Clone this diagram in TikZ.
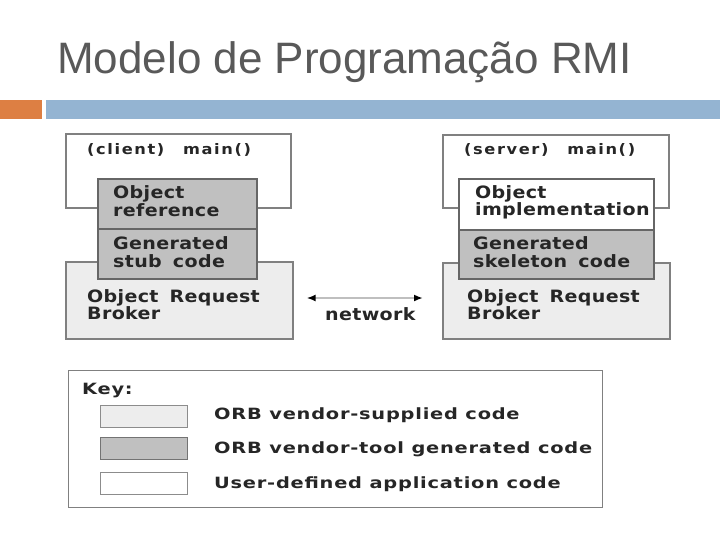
\documentclass[tikz,border=0pt]{standalone}
\usepackage{fontspec}
\setmainfont{Liberation Sans}
\newfontfamily\dgfont{DejaVu Sans}[LetterSpace=2,FakeStretch=1.12,WordSpace=1.6]
\newfontfamily\hdfont{DejaVu Sans}[LetterSpace=11,FakeStretch=1.12,WordSpace=1.3]
\newfontfamily\kyfont{DejaVu Sans}[LetterSpace=5,FakeStretch=1.25]
\usetikzlibrary{arrows.meta}
\definecolor{orbc}{HTML}{EDEDED}
\definecolor{genc}{HTML}{C0C0C0}
\definecolor{brd}{HTML}{808080}
\definecolor{titlec}{HTML}{595959}
\definecolor{orangec}{HTML}{DD7F43}
\definecolor{bluec}{HTML}{94B4D2}
\tikzset{
  box/.style={draw=brd, line width=1.6pt, rectangle, inner sep=0pt, anchor=north west},
  txt/.style={anchor=base west, inner sep=0pt, font=\dgfont\bfseries\fontsize{17}{20}\selectfont, text=black!85},
  hdr/.style={txt, font=\hdfont\bfseries\fontsize{14.5}{17}\selectfont},
  kyt/.style={txt, font=\kyfont\bfseries\fontsize{15.5}{18}\selectfont},
}
\begin{document}
\begin{tikzpicture}[x=1pt,y=-1pt]
\useasboundingbox (0,0) rectangle (720,540);
% title and bars
\node[anchor=base west, inner sep=0pt, font=\fontsize{44}{50}\selectfont, text=titlec] (title) at (57,74) {Modelo de Programação RMI};
\fill[orangec] (0,100) rectangle (42,119);
\fill[bluec] (46,100) rectangle (720,119);
% client side
\node[box, fill=white, minimum width=225pt, minimum height=74pt] (mainL) at (65,133) {};
\node[box, fill=orbc, minimum width=227pt, minimum height=77pt] (orbL) at (65,261) {};
\node[box, fill=genc, draw=black!60, minimum width=159pt, minimum height=50pt] (refL) at (97,178) {};
\node[box, fill=genc, draw=black!60, minimum width=159pt, minimum height=50pt] (stubL) at (97,228) {};
\node[hdr] (tmL) at (87,155) {(client)\ \ main()};
\node[txt] (tr1) at (113,199) {Object};
\node[txt] (tr2) at (113,216) {reference};
\node[txt] (ts1) at (113,249) {Generated};
\node[txt] (ts2) at (113,267) {stub code};
\node[txt] (to1) at (87,302) {Object Request};
\node[txt] (to2) at (87,319) {Broker};
% server side
\node[box, fill=white, minimum width=226pt, minimum height=73pt] (mainR) at (442,134) {};
\node[box, fill=orbc, minimum width=227pt, minimum height=76pt] (orbR) at (442,262) {};
\node[box, fill=white, draw=black!60, minimum width=195pt, minimum height=51pt] (implR) at (458,178) {};
\node[box, fill=genc, draw=black!60, minimum width=195pt, minimum height=49pt] (skelR) at (458,229) {};
\node[hdr] (tmR) at (464,155) {(server)\ \ main()};
\node[txt] (ti1) at (475,199) {Object};
\node[txt] (ti2) at (475,215) {implementation};
\node[txt] (tk1) at (473,249) {Generated};
\node[txt] (tk2) at (473,267) {skeleton code};
\node[txt] (tp1) at (467,302) {Object Request};
\node[txt] (tp2) at (467,319) {Broker};
% network
\draw[{Latex[black,length=9pt,width=7pt]}-{Latex[black,length=9pt,width=7pt]}, black!25, line width=2pt, shorten <=13pt, shorten >=19pt] (orbL.east |- 0,298) coordinate (nA) -- (orbR.west |- 0,298) coordinate (nB);
\node[txt] (net) at (325,320) {network};
% key
\node[box, fill=white, line width=1.2pt, minimum width=534pt, minimum height=137pt] (key) at (68,370) {};
\node[kyt] (keyt) at (82,394) {Key:};
\node[box, fill=orbc, line width=1.4pt, draw=black!45, minimum width=87pt, minimum height=22pt] (k1) at (100,405) {};
\node[box, fill=genc, line width=1.4pt, draw=black!55, minimum width=87pt, minimum height=22pt] (k2) at (100,437) {};
\node[box, fill=white, line width=1.4pt, draw=black!45, minimum width=87pt, minimum height=22pt] (k3) at (100,472) {};
\node[kyt] (kl1) at (214,419) {ORB vendor-supplied code};
\node[kyt] (kl2) at (214,453) {ORB vendor-tool generated code};
\node[kyt] (kl3) at (214,488) {User-defined application code};
\end{tikzpicture}
\end{document}
